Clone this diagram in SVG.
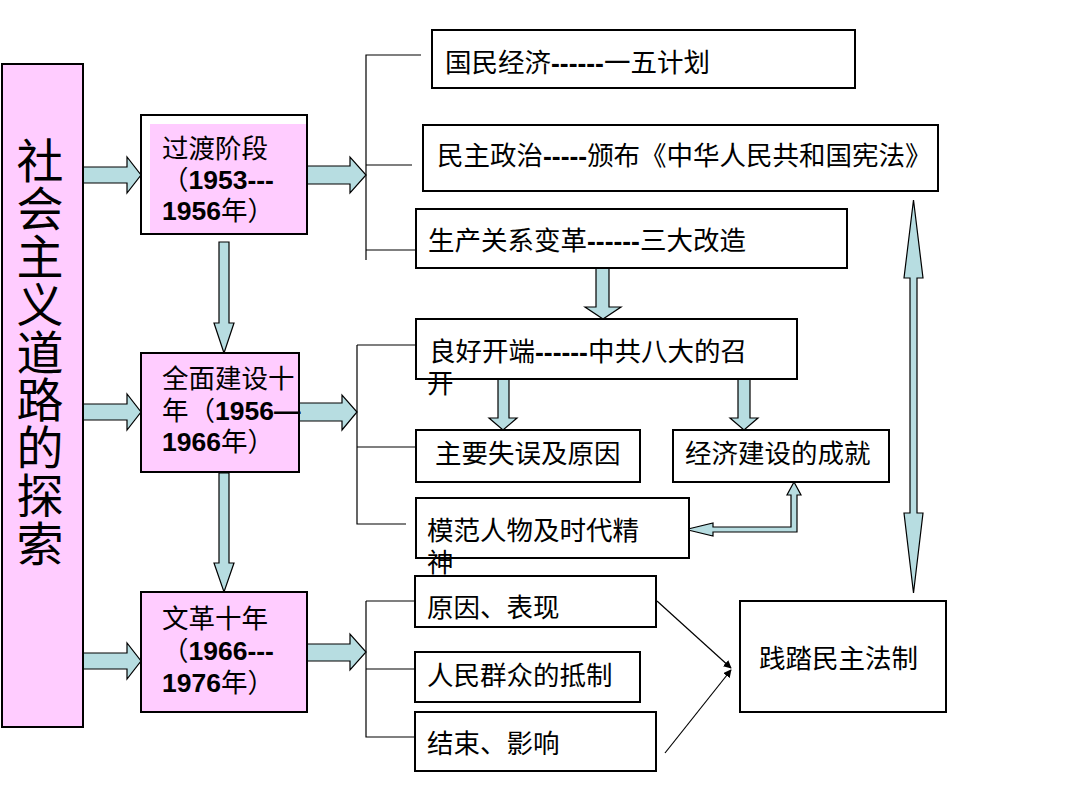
<svg xmlns="http://www.w3.org/2000/svg" width="1080" height="810" viewBox="0 0 1080 810">
<style>
.t{font-family:"Liberation Sans","Noto Sans CJK SC",sans-serif;font-size:26.5px;fill:#000}
.b{font-weight:bold}
.v{font-family:"Noto Sans CJK SC",sans-serif;font-size:47px;fill:#000;writing-mode:vertical-rl;letter-spacing:0.8px}
.box{fill:#fff;stroke:#000;stroke-width:2}
.pink{fill:#ffccff;stroke:#000;stroke-width:2}
.ba{fill:#b7dde1;stroke:#000;stroke-width:1.2;stroke-linejoin:miter}
.ln{fill:none;stroke:#000;stroke-width:1.2}
</style>
<defs>
<marker id="ah" viewBox="0 0 10 10" refX="9" refY="5" markerWidth="8" markerHeight="8" markerUnits="userSpaceOnUse" orient="auto">
<path d="M0,0 L10,5 L0,10 z" fill="#000"/>
</marker>
</defs>
<rect width="1080" height="810" fill="#fff"/>

<g id="connectors">
<path class="ln" d="M366,260 V55 H421 M366,165 H412 M366,250 H415"/>
<path class="ln" d="M357,345 H415 M357,345 V524 H406 M357,447 H415"/>
<path class="ln" d="M366,601 H415 M366,601 V737 H415 M366,669 H415"/>
<polygon class="ba" points="83,167 127,167 127,157 141,175 127,193 127,183 83,183"/>
<polygon class="ba" points="83,404 127,404 127,394 141,412 127,430 127,420 83,420"/>
<polygon class="ba" points="83,653 127,653 127,643 141,661 127,679 127,669 83,669"/>
<polygon class="ba" points="307,166 350,166 350,157 366,175 350,193 350,184 307,184"/>
<polygon class="ba" points="299,403 342,403 342,395 357,412 342,430 342,421 299,421"/>
<polygon class="ba" points="307,644 350,644 350,634 366,652 350,670 350,661 307,661"/>
<polygon class="ba" points="219,242 229,242 229,323 234,323 224,353 214,323 219,323"/>
<polygon class="ba" points="219,473 229,473 229,563 234,563 224,592 214,563 219,563"/>
<polygon class="ba" points="596,268 609,268 609,307 621,307 603,319 585,307 596,307"/>
<polygon class="ba" points="498,379 509,379 509,418 517,418 503,430 489,418 498,418"/>
<polygon class="ba" points="738,379 750,379 750,418 758,418 744,430 730,418 738,418"/>
<polygon class="ba" points="686,529.5 713,523 713,527 791,527 791,495 787,495 794,482 801,495 797,495 797,532 713,532 713,536"/>
<polygon class="ba" points="913.5,200 923,278 917,278 917,513 923,513 913.5,593 904,513 910,513 910,278 904,278"/>
<line class="ln" x1="657" y1="601" x2="731" y2="668" marker-end="url(#ah)"/>
<line class="ln" x1="665" y1="753" x2="731" y2="670" marker-end="url(#ah)"/>
</g>

<g id="main">
<rect class="pink" x="2" y="64" width="81" height="663"/>
<text class="v" x="40" y="137">社会主义道路的探索</text>
</g>

<g id="stage1">
<rect class="box" x="141" y="115" width="166" height="119"/>
<rect x="150" y="124" width="156" height="109" fill="#ffccff"/>
<text class="t" x="162" y="158">过渡阶段</text>
<text class="t" x="162" y="189">（<tspan class="b">1953---</tspan></text>
<text class="t" x="162" y="220"><tspan class="b">1956</tspan>年）</text>
</g>

<g id="stage2">
<rect class="pink" x="141" y="353" width="158" height="119"/>
<text class="t" x="162" y="388">全面建设十</text>
<text class="t" x="162" y="420">年（<tspan class="b">1956—</tspan></text>
<text class="t" x="162" y="451"><tspan class="b">1966</tspan>年）</text>
</g>

<g id="stage3">
<rect class="pink" x="141" y="592" width="166" height="120"/>
<text class="t" x="162" y="628">文革十年</text>
<text class="t" x="162" y="660">（<tspan class="b">1966---</tspan></text>
<text class="t" x="162" y="692"><tspan class="b">1976</tspan>年）</text>
</g>

<g id="n-economy">
<rect class="box" x="432" y="30" width="423" height="58"/>
<text class="t" x="445" y="72">国民经济<tspan class="b">------</tspan>一五计划</text>
</g>

<g id="n-politics">
<rect class="box" x="423" y="125" width="515" height="66"/>
<text class="t" x="437" y="165">民主政治<tspan class="b">-----</tspan>颁布《中华人民共和国宪法》</text>
</g>

<g id="n-production">
<rect class="box" x="416" y="209" width="431" height="59"/>
<text class="t" x="428" y="250">生产关系变革<tspan class="b">------</tspan>三大改造</text>
</g>

<g id="n-start">
<rect class="box" x="416" y="319" width="381" height="60"/>
<text class="t" x="429" y="361">良好开端<tspan class="b">------</tspan>中共八大的召</text>
<text class="t" x="427" y="393">开</text>
</g>

<g id="n-mistakes">
<rect class="box" x="416" y="430" width="224" height="52"/>
<text class="t" x="435" y="463">主要失误及原因</text>
</g>

<g id="n-achievements">
<rect class="box" x="673" y="430" width="216" height="52"/>
<text class="t" x="685" y="463">经济建设的成就</text>
</g>

<g id="n-models">
<rect class="box" x="416" y="498" width="273" height="60"/>
<text class="t" x="427" y="540">模范人物及时代精</text>
<text class="t" x="427" y="572">神</text>
</g>

<g id="n-cause">
<rect class="box" x="415" y="576" width="241" height="51"/>
<text class="t" x="427" y="617">原因、表现</text>
</g>

<g id="n-resist">
<rect class="box" x="415" y="652" width="225" height="50"/>
<text class="t" x="427" y="685">人民群众的抵制</text>
</g>

<g id="n-end">
<rect class="box" x="415" y="712" width="241" height="59"/>
<text class="t" x="427" y="753">结束、影响</text>
</g>

<g id="n-law">
<rect class="box" x="740" y="601" width="206" height="111"/>
<text class="t" x="759" y="668">践踏民主法制</text>
</g>
</svg>
